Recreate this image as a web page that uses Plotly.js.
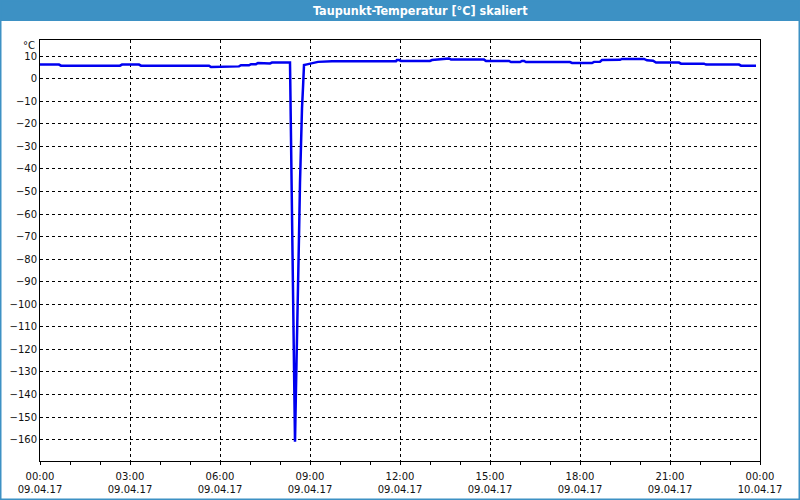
<!DOCTYPE html>
<html>
<head>
<meta charset="utf-8">
<script src="https://cdn.plot.ly/plotly-3.0.1.min.js"></script>
<style>html,body{margin:0;padding:0;background:#fff;}#chart{width:800px;height:500px;}</style>
</head>
<body>
<div id="chart"></div>
<script>
const times = [
"2017-04-09 00:00","2017-04-09 00:38","2017-04-09 00:42","2017-04-09 02:40","2017-04-09 02:44",
"2017-04-09 03:18","2017-04-09 03:22","2017-04-09 04:42","2017-04-09 04:44","2017-04-09 04:52",
"2017-04-09 04:54","2017-04-09 05:38","2017-04-09 05:42","2017-04-09 05:58","2017-04-09 06:02",
"2017-04-09 06:38","2017-04-09 06:42","2017-04-09 06:58","2017-04-09 07:02","2017-04-09 07:12",
"2017-04-09 07:16","2017-04-09 07:24","2017-04-09 07:28","2017-04-09 07:40","2017-04-09 07:44",
"2017-04-09 08:20","2017-04-09 08:22","2017-04-09 08:24","2017-04-09 08:26","2017-04-09 08:28",
"2017-04-09 08:30","2017-04-09 08:32","2017-04-09 08:34","2017-04-09 08:36","2017-04-09 08:38",
"2017-04-09 08:40","2017-04-09 08:42","2017-04-09 08:44","2017-04-09 08:46","2017-04-09 08:48",
"2017-04-09 08:54","2017-04-09 09:02","2017-04-09 09:10","2017-04-09 09:16","2017-04-09 09:44",
"2017-04-09 11:52","2017-04-09 11:54","2017-04-09 11:58","2017-04-09 12:02","2017-04-09 13:00",
"2017-04-09 13:04","2017-04-09 13:20","2017-04-09 13:24","2017-04-09 13:38","2017-04-09 13:42",
"2017-04-09 14:48","2017-04-09 14:52","2017-04-09 15:38","2017-04-09 15:42","2017-04-09 16:00",
"2017-04-09 16:04","2017-04-09 16:08","2017-04-09 16:12","2017-04-09 17:40","2017-04-09 17:44",
"2017-04-09 18:24","2017-04-09 18:28","2017-04-09 18:40","2017-04-09 18:44","2017-04-09 19:20",
"2017-04-09 19:24","2017-04-09 20:08","2017-04-09 20:14","2017-04-09 20:26","2017-04-09 20:32",
"2017-04-09 21:18","2017-04-09 21:22","2017-04-09 22:08","2017-04-09 22:12","2017-04-09 23:18",
"2017-04-09 23:22","2017-04-09 23:52"
];
const dewPoint = [
6.3,6.3,5.8,5.8,6.3,
6.3,5.8,5.8,6.1,6.1,
5.8,5.8,5.2,5.2,5.5,
5.5,6.0,6.0,6.5,6.5,
7.0,7.0,6.8,6.8,7.2,
7.2,-26,-60,-94,-127,
-161,-137,-118,-94,-70,
-46,-26,-13,-4,6.1,
6.4,6.9,7.2,7.5,7.8,
7.8,8.3,8.3,7.9,7.9,
8.3,8.6,9.0,9.0,8.5,
8.5,7.9,7.9,7.4,7.4,
7.9,7.9,7.4,7.4,7.0,
7.0,7.5,7.6,8.3,8.4,
8.8,8.8,8.2,8.0,7.2,
7.2,6.7,6.7,6.3,6.3,
5.8,5.8
];
const chartTitle = "Taupunkt-Temperatur [°C] skaliert";
const unitLabel = "°C";
const xRange = ["2017-04-09 00:00", "2017-04-10 00:00"];
const yRange = [-169.5, 17.2];

// pixel helpers for decorations (plot area 40..760 x 40..461)
const L = 40, R = 40, T = 40, B = 39, W = 800, H = 500;
const pw = W - L - R, ph = H - T - B;
const px = v => (v - L) / pw;
const py = v => (H - B - v) / ph;

const trace = {
  x: times, y: dewPoint, type: "scatter", mode: "lines",
  line: {color: "#0000f0", width: 2.5}, hoverinfo: "skip"
};

const tickFont = {family: "DejaVu Sans", size: 10, color: "#111"};

const layout = {
  width: W, height: H,
  margin: {l: L, r: R, t: T, b: B, pad: 0},
  paper_bgcolor: "#ffffff", plot_bgcolor: "#ffffff",
  showlegend: false,
  xaxis: {
    type: "date", range: xRange, fixedrange: true,
    tick0: "2017-04-09 00:00", dtick: 3 * 3600000,
    tickformat: "%H:%M<br>%d.%m.%y",
    ticks: "outside", ticklen: 3, tickcolor: "#000",
    ticklabelstandoff: 3,
    minor: {dtick: 3600000, ticks: "outside", ticklen: 3, tickcolor: "#000", showgrid: false},
    showgrid: true, gridcolor: "#000", gridwidth: 1, griddash: "3px,3px",
    showline: true, linecolor: "#000", linewidth: 1, mirror: true,
    zeroline: false, tickfont: tickFont
  },
  yaxis: {
    range: yRange, fixedrange: true,
    tick0: 0, dtick: 10,
    ticks: "",
    showgrid: true, gridcolor: "#000", gridwidth: 1, griddash: "3px,3px",
    showline: true, linecolor: "#000", linewidth: 1, mirror: true,
    zeroline: false, tickfont: tickFont
  },
  shapes: [
    {type: "rect", xref: "paper", yref: "paper", x0: px(0), x1: px(800), y0: py(21), y1: py(0),
     fillcolor: "#3d91c4", line: {width: 0}, layer: "above"},
    {type: "rect", xref: "paper", yref: "paper", x0: px(0), x1: px(800), y0: py(500), y1: py(0),
     fillcolor: "rgba(0,0,0,0)", line: {color: "#3d91c4", width: 3}, layer: "above"}
  ],
  annotations: [
    {text: "<b>" + chartTitle + "</b>", xref: "paper", yref: "paper",
     x: px(420), y: py(10.5), xanchor: "center", yanchor: "middle", showarrow: false,
     font: {family: "DejaVu Sans Condensed", size: 12.5, color: "#ffffff"}},
    {text: unitLabel, xref: "paper", yref: "paper",
     x: px(37), y: py(45), xanchor: "right", yanchor: "middle", showarrow: false,
     font: tickFont}
  ]
};

Plotly.newPlot("chart", [trace], layout, {staticPlot: true, displayModeBar: false});
</script>
</body>
</html>
